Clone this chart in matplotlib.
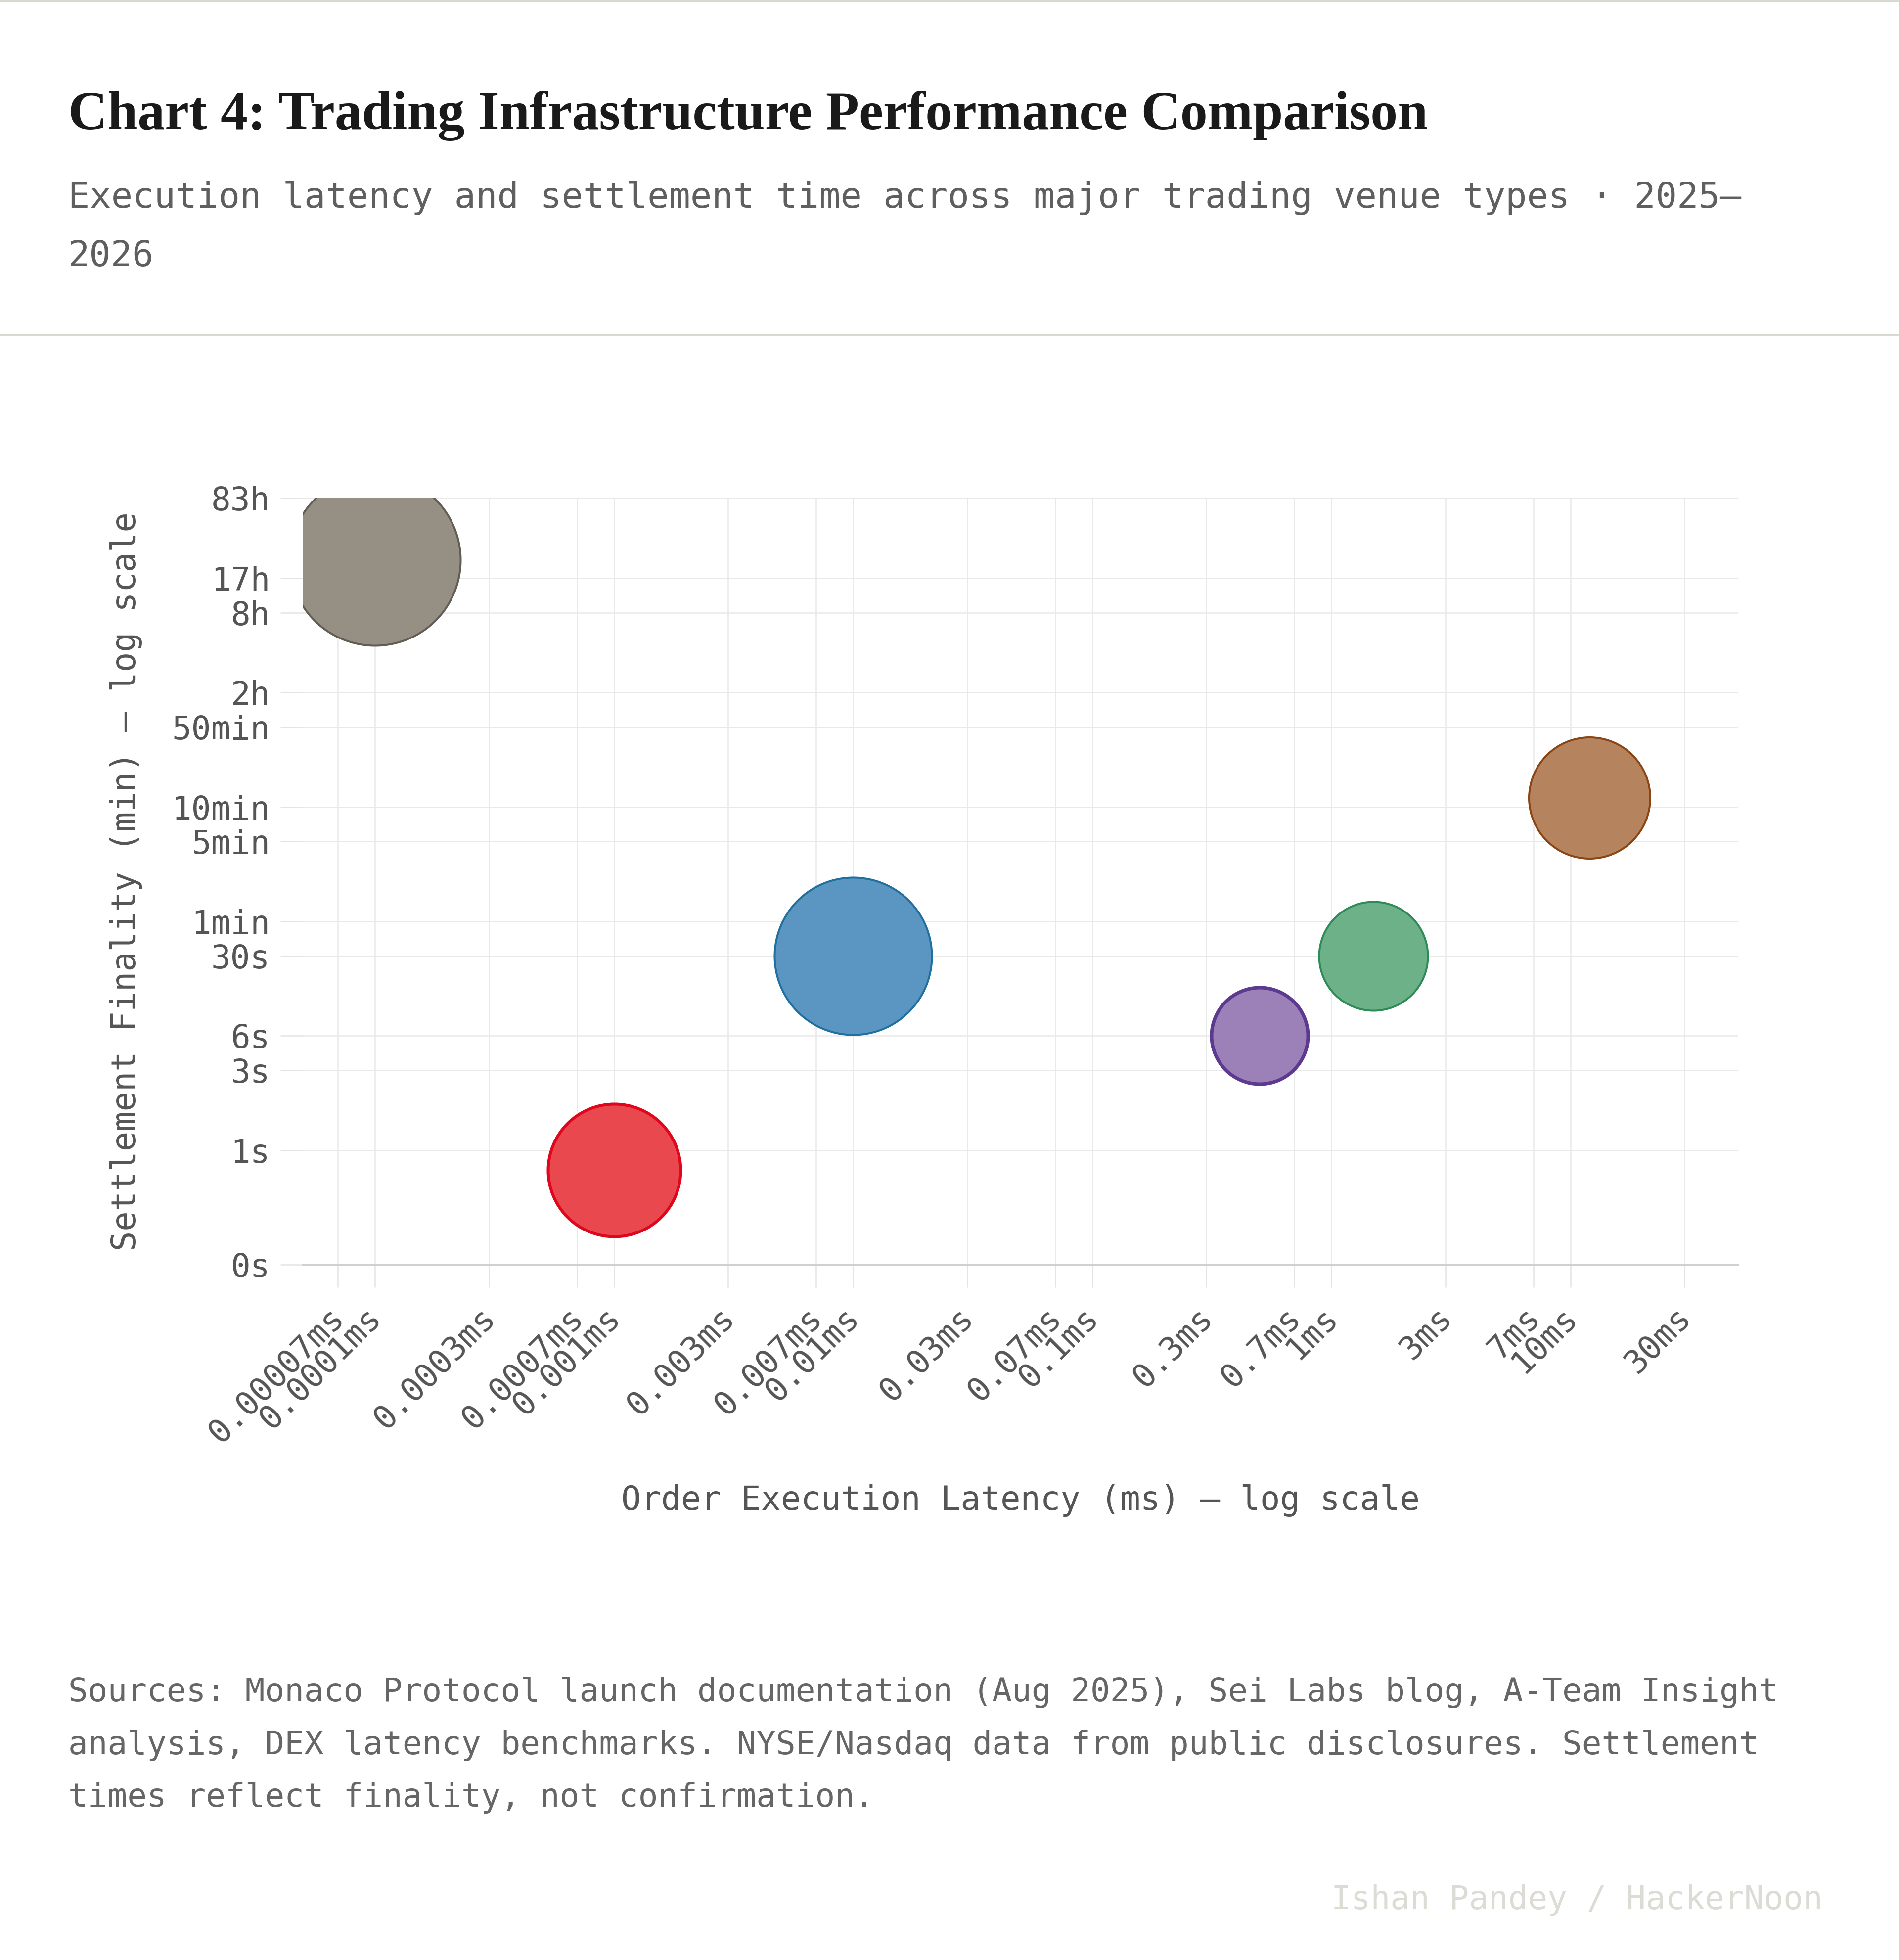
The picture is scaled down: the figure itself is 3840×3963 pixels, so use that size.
import matplotlib
matplotlib.use('Agg')
import matplotlib.pyplot as plt
from matplotlib.lines import Line2D
from matplotlib.ticker import NullLocator
from matplotlib.transforms import ScaledTranslation

# data
latency_ms = [0.0001, 0.001, 0.01, 0.5, 1.5, 12]
finality_min = [1440, 0.4 / 60, 0.5, 0.1, 0.5, 12]

x_ticks = [7e-5, 1e-4, 3e-4, 7e-4, 1e-3, 3e-3, 7e-3, 1e-2, 3e-2, 7e-2,
           0.1, 0.3, 0.7, 1, 3, 7, 10, 30]
x_labels = ['0.00007ms', '0.0001ms', '0.0003ms', '0.0007ms', '0.001ms',
            '0.003ms', '0.007ms', '0.01ms', '0.03ms', '0.07ms', '0.1ms',
            '0.3ms', '0.7ms', '1ms', '3ms', '7ms', '10ms', '30ms']
y_ticks = [0.001, 0.01, 0.05, 0.1, 0.5, 1, 5, 10, 50, 100, 500, 1000, 5000]
y_labels = ['0s', '1s', '3s', '6s', '30s', '1min', '5min', '10min', '50min',
            '2h', '8h', '17h', '83h']

# marker styling (diameters in output pixels)
bubble_px = [350, 274, 322, 202, 224, 249]
face = ['#958f84', '#e9484e', '#5b96c2', '#9c80b8', '#6db189', '#b5845f']
edge = ['#615c54', '#e0061b', '#1f6f9f', '#5b3a8f', '#2e8b57', '#8b4513']
edge_w = [4, 6, 4, 7, 4, 4]

title = 'Chart 4: Trading Infrastructure Performance Comparison'
subtitle = ['Execution latency and settlement time across major trading venue types \u00b7 2025\u2013',
            '2026']
sources = ['Sources: Monaco Protocol launch documentation (Aug 2025), Sei Labs blog, A-Team Insight',
           'analysis, DEX latency benchmarks. NYSE/Nasdaq data from public disclosures. Settlement',
           'times reflect finality, not confirmation.']

W, H = 3840, 3963
plt.rcParams['font.family'] = ['DejaVu Sans Mono']

fig = plt.figure(figsize=(W / 72, H / 72), dpi=72)
fig.patch.set_facecolor('white')

def fx(px):
    return px / W

def fy(py):
    return 1 - py / H

ax = fig.add_axes([fx(613), fy(2557), fx(3514) - fx(613), fy(1007) - fy(2557)])
ax.set_xscale('log')
ax.set_yscale('log')

for i in range(len(latency_ms)):
    ax.scatter(latency_ms[i], finality_min[i], s=(bubble_px[i] - edge_w[i]) ** 2,
               c=face[i], edgecolors=edge[i], linewidths=edge_w[i], zorder=3)

ax.set_xlim(10 ** -4.3, 10 ** 1.7)
ax.set_ylim(1e-3, 10 ** 3.7)
ax.set_xticks(x_ticks, x_labels)
ax.set_yticks(y_ticks, y_labels)
ax.xaxis.set_minor_locator(NullLocator())
ax.yaxis.set_minor_locator(NullLocator())

ax.tick_params(axis='both', which='major', length=46, width=2.5, color='#e4e4e4',
               labelsize=66, labelcolor='#555555')
ax.tick_params(axis='x', pad=29)
ax.tick_params(axis='y', pad=21)
# rotated labels sit a little right of their ticks in the reference
shift = ScaledTranslation(26 / 72, 0, fig.dpi_scale_trans)
for lab in ax.get_xticklabels():
    lab.set_rotation(45)
    lab.set_ha('right')
    lab.set_va('top')
    lab.set_transform(lab.get_transform() + shift)

ax.grid(True, color='#e9e9e9', linewidth=2.5)
ax.set_axisbelow(True)
for s in ['top', 'right', 'left']:
    ax.spines[s].set_visible(False)
ax.spines['bottom'].set_color('#d0d0d0')
ax.spines['bottom'].set_linewidth(4)

# header
fig.add_artist(Line2D([0, 1], [fy(2), fy(2)], color='#d9d9d2', lw=5, transform=fig.transFigure))
fig.add_artist(Line2D([0, 1], [fy(678), fy(678)], color='#d9d9d2', lw=4, transform=fig.transFigure))

t = fig.text(fx(138), fy(261), title, fontsize=118, family='Liberation Serif',
             weight='bold', color='#1a1a1a', va='baseline')
fig.canvas.draw()
bb = t.get_window_extent()
t.set_fontsize(118 * 2749 / bb.width)

for line, base in zip(subtitle, [420, 538]):
    fig.text(fx(138), fy(base), line, fontsize=72, color='#5f5f5f', va='baseline')

fig.text(fx(2063), fy(3034), 'Order Execution Latency (ms) \u2014 log scale',
         ha='center', va='center', fontsize=67, color='#555555')
fig.text(fx(255), fy(1782), 'Settlement Finality (min) \u2014 log scale',
         ha='center', va='center', rotation=90, fontsize=67, color='#555555')

for line, base in zip(sources, [3440, 3547, 3653]):
    fig.text(fx(138), fy(base), line, fontsize=66, color='#666666', va='baseline')

fig.text(fx(3686), fy(3860), 'Ishan Pandey / HackerNoon', fontsize=66,
         color='#dcdcd4', ha='right', va='baseline')

fig.savefig('out.png', dpi=72, facecolor='white')
